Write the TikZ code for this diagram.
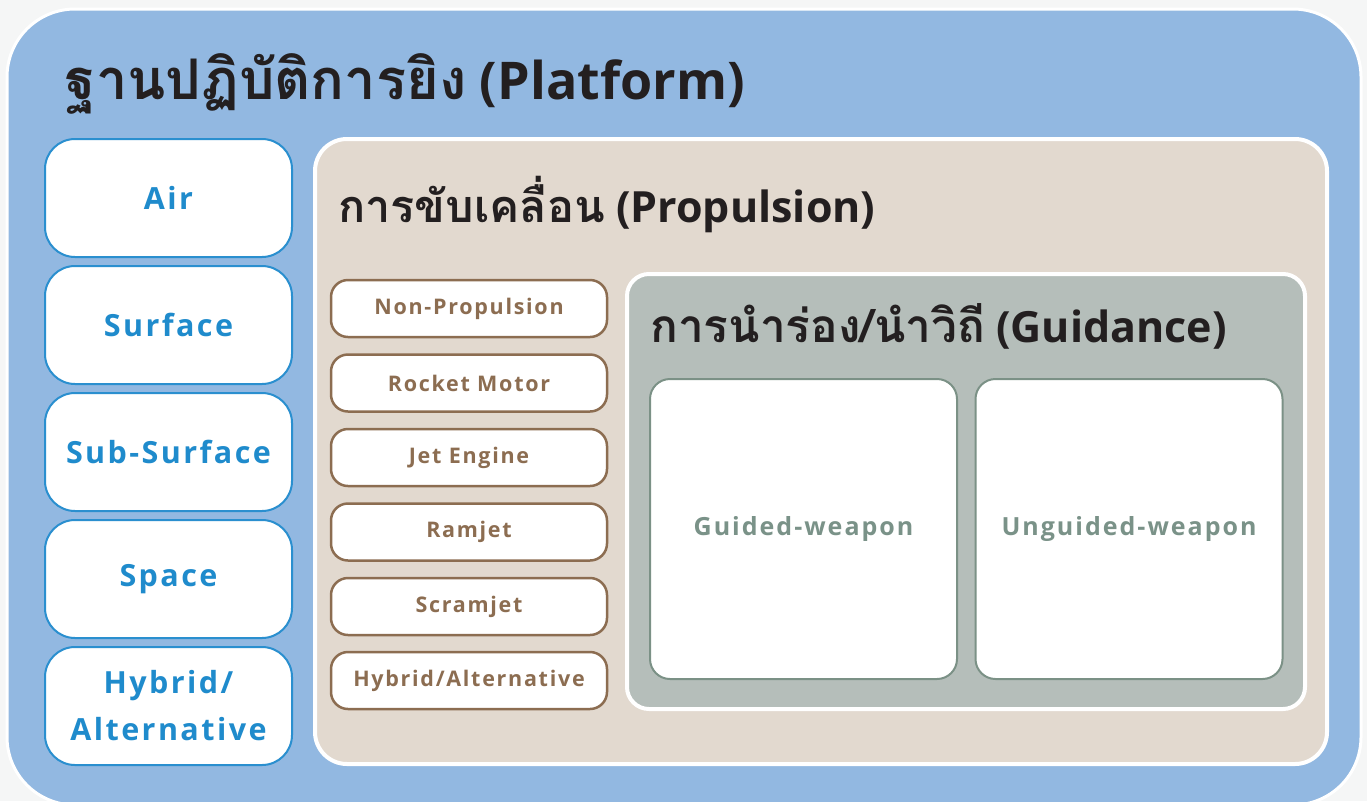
\documentclass[tikz,border=0pt]{standalone}
\usepackage{fontspec}
\setmainfont{Open Sans}
\newfontfamily\thai[Script=Thai]{Loma}
\newfontfamily\lbl{Open Sans}[LetterSpace=8]
\definecolor{bgc}{HTML}{F5F6F6}
\definecolor{platc}{HTML}{92B8E1}
\definecolor{propc}{HTML}{E2D9CF}
\definecolor{guidc}{HTML}{B5BEBA}
\definecolor{blueline}{HTML}{2A8FCF}
\definecolor{bluetext}{HTML}{1F8BCC}
\definecolor{brownc}{HTML}{8C6D51}
\definecolor{greenline}{HTML}{7B9186}
\definecolor{greentext}{HTML}{7A9288}
\definecolor{titlec}{HTML}{231F20}
\begin{document}
\begin{tikzpicture}[x=1pt,y=-1pt,
  container/.style={draw=white, inner sep=0pt},
  heading/.style={anchor=base west, inner sep=0pt, text=titlec, font=\bfseries\fontsize{43}{52}\selectfont},
  platbox/.style={draw=blueline, line width=2pt, fill=white, rounded corners=30pt, minimum width=247pt, minimum height=118pt, inner sep=0pt, text=bluetext, font=\lbl\bfseries\fontsize{30.5}{47}\selectfont, align=center},
  propbox/.style={draw=brownc, line width=2.5pt, fill=white, rounded corners=17pt, minimum width=276pt, minimum height=57pt, inner sep=0pt, text=brownc, font=\lbl\bfseries\fontsize{21.5}{26}\selectfont},
  guidebox/.style={draw=greenline, line width=2pt, fill=white, rounded corners=20pt, minimum width=307pt, minimum height=300pt, inner sep=0pt, text=greentext, font=\lbl\bfseries\fontsize{25}{30}\selectfont}
]
\useasboundingbox (0,0) rectangle (1367,801);
\fill[bgc] (0,0) rectangle (1367,801);
% containers
\node[container, line width=3pt, fill=platc, rounded corners=68pt, minimum width=1354pt, minimum height=796pt] (plat) at (684,407) {};
\node[container, line width=4pt, fill=propc, rounded corners=32pt, minimum width=1012pt, minimum height=625pt] (prop) at (821,451.5) {};
\node[container, line width=4pt, fill=guidc, rounded corners=22pt, minimum width=678pt, minimum height=435pt] (guid) at (966,491.5) {};
% headings
\node[heading, font=\bfseries\fontsize{52}{60}\selectfont] (tplat) at (65,99) {{\thai\fontsize{56}{60}\selectfont ฐานปฏิบัติการยิง} (Platform)};
\node[heading] (tprop) at (338,222) {{\thai\fontsize{45}{52}\selectfont การขับเคลื่อน} (Propulsion)};
\node[heading] (tguid) at (650,342) {{\thai\fontsize{46}{52}\selectfont การนำร่อง/นำวิถี} (Guidance)};
% platform boxes
\node[platbox] (air) at (168.5,198) {Air};
\node[platbox] (surf) at (168.5,325) {Surface};
\node[platbox] (sub) at (168.5,452) {Sub-Surface};
\node[platbox] (space) at (168.5,579) {Space};
\node[platbox] (hyb) at (168.5,706) {Hybrid/\\Alternative};
% propulsion boxes
\node[propbox] (nonp) at (469,308.5) {Non-Propulsion};
\node[propbox] (rock) at (469,383) {Rocket Motor};
\node[propbox] (jet) at (469,457.5) {Jet Engine};
\node[propbox] (ram) at (469,532) {Ramjet};
\node[propbox] (scram) at (469,606.5) {Scramjet};
\node[propbox] (hybp) at (469,680.5) {Hybrid/Alternative};
% guidance boxes
\node[guidebox] (gw) at (803.5,529) {Guided-weapon};
\node[guidebox] (ugw) at (1129,529) {Unguided-weapon};
\end{tikzpicture}
\end{document}
